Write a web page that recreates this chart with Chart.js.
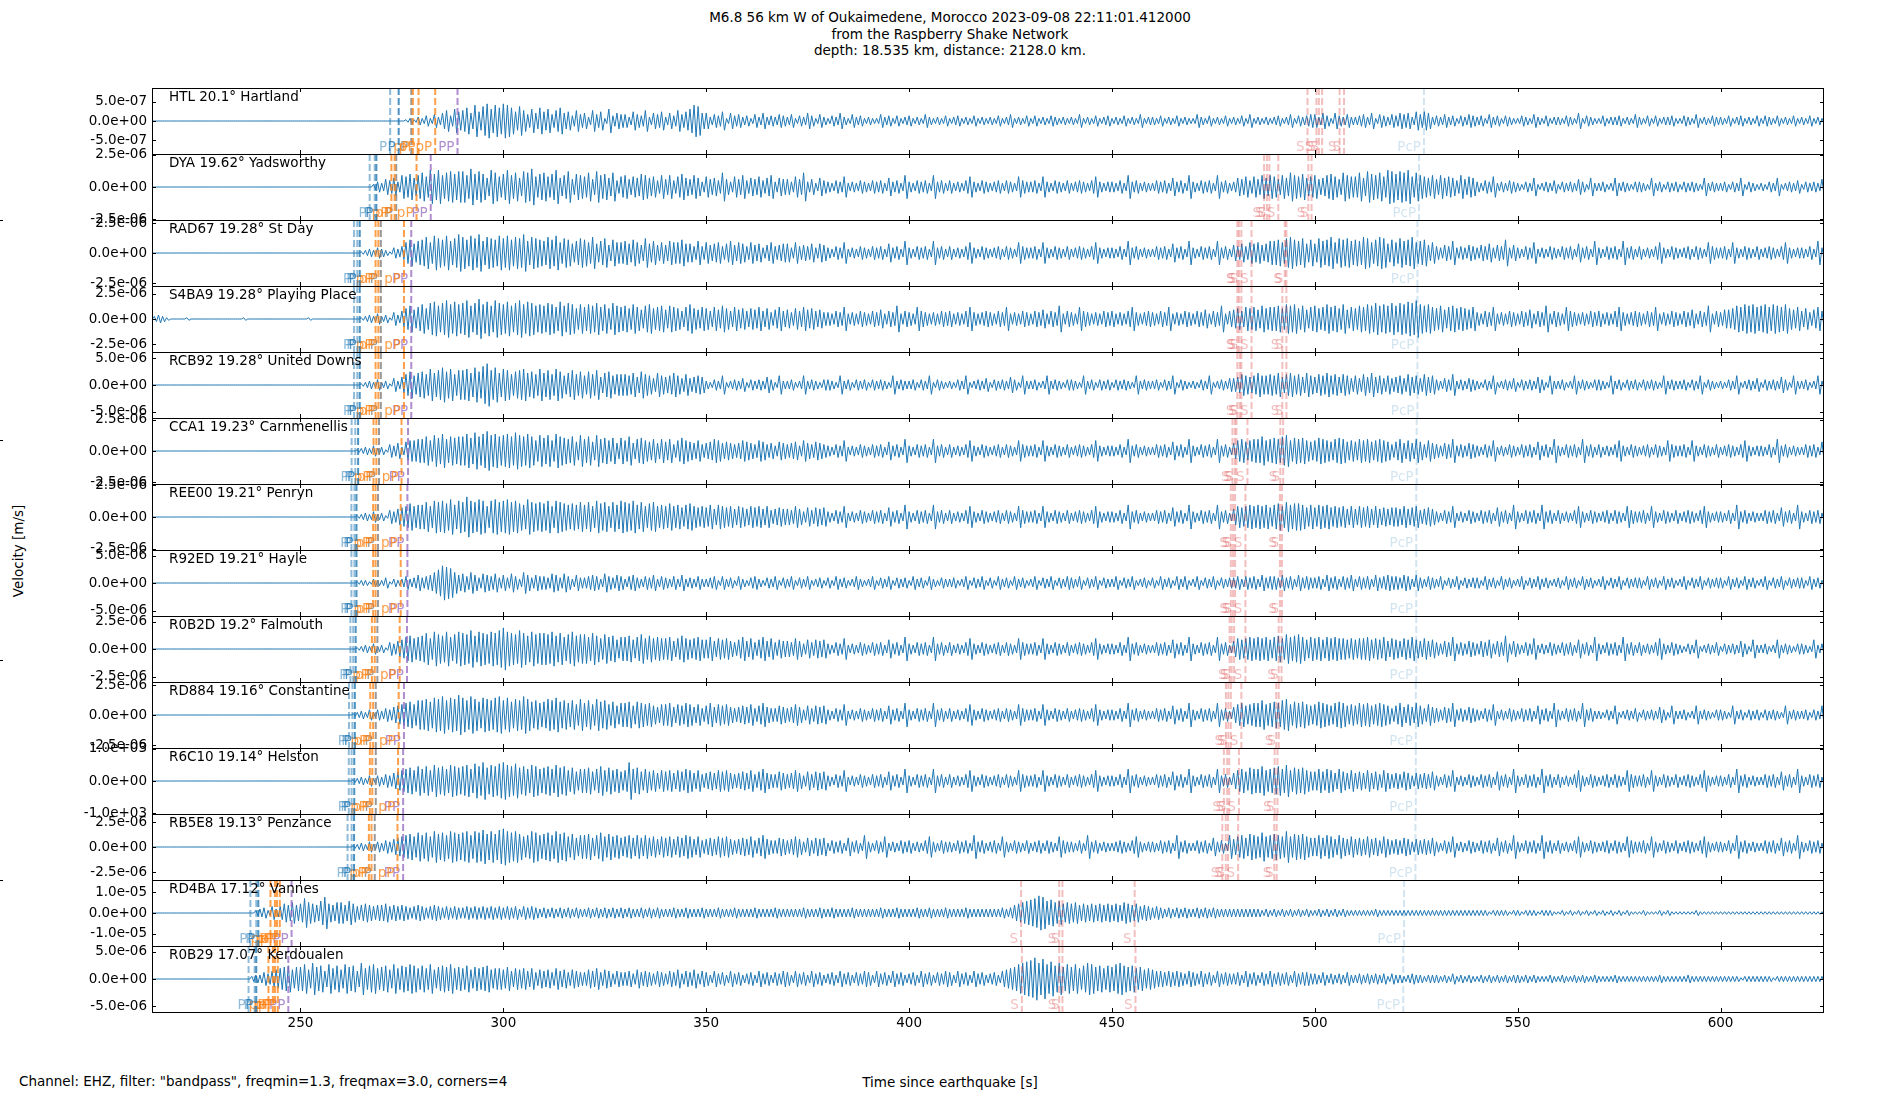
<!DOCTYPE html>
<html>
<head>
<meta charset="utf-8">
<title>M6.8 Oukaimedene - Raspberry Shake record section</title>
<script src="https://cdn.jsdelivr.net/npm/chart.js@4.4.1/dist/chart.umd.min.js"></script>
<style>
  html, body { margin: 0; padding: 0; background: #fff; }
  body { width: 1900px; height: 1100px; position: relative; overflow: hidden;
         font-family: "DejaVu Sans", sans-serif; font-size: 13.5px; color: #000; }
  .panel { position: absolute; left: 0; width: 1900px; }
  #title { position: absolute; left: 0; top: 9px; width: 1900px; text-align: center; line-height: 16.5px; }
  #ylabel { position: absolute; left: 18px; top: 551px; transform: translate(-50%, -50%) rotate(-90deg); white-space: nowrap; }
  #xlabel { position: absolute; left: 950px; top: 1082px; transform: translate(-50%, -50%); white-space: nowrap; }
  #note { position: absolute; left: 19px; top: 1081px; transform: translateY(-50%); white-space: nowrap; }
  .edge { position: absolute; left: 0; width: 3px; height: 1px; background: #000; }
</style>
</head>
<body>
<div id="title">M6.8 56 km W of Oukaimedene, Morocco 2023-09-08 22:11:01.412000<br>from the Raspberry Shake Network<br>depth: 18.535 km, distance: 2128.0 km.</div>
<div id="ylabel">Velocity [m/s]</div>
<div id="xlabel">Time since earthquake [s]</div>
<div id="note">Channel: EHZ, filter: "bandpass", freqmin=1.3, freqmax=3.0, corners=4</div>
<div class="edge" style="top:220px"></div>
<div class="edge" style="top:440px"></div>
<div class="edge" style="top:660px"></div>
<div class="edge" style="top:880px"></div>
<script>
// one panel per station, top to bottom
const stations = [
  'HTL 20.1° Hartland', 'DYA 19.62° Yadsworthy', 'RAD67 19.28° St Day', 'S4BA9 19.28° Playing Place',
  'RCB92 19.28° United Downs', 'CCA1 19.23° Carnmenellis', 'REE00 19.21° Penryn', 'R92ED 19.21° Hayle',
  'R0B2D 19.2° Falmouth', 'RD884 19.16° Constantine', 'R6C10 19.14° Helston', 'RB5E8 19.13° Penzance',
  'RD4BA 17.12° Vannes', 'R0B29 17.07° Kerdoualen'
];
const yLimits = [8.5e-7, 2.55e-6, 2.75e-6, 3.25e-6, 6.2e-6, 2.65e-6, 2.58e-6, 6.0e-6,
                 3.0e-6, 2.75e-6, 1.02e3, 3.3e-6, 1.6e-5, 6.1e-6];
const yTickSteps = [5e-7, 2.5e-6, 2.5e-6, 2.5e-6, 5e-6, 2.5e-6, 2.5e-6, 5e-6,
                    2.5e-6, 2.5e-6, 1e3, 2.5e-6, 1e-5, 5e-6];
// size of one amplitude step in the trace codes, per station
const ampUnits = [3.4e-8, 1.0e-7, 1.1e-7, 1.3e-7, 2.5e-7, 1.05e-7, 1.05e-7, 2.4e-7,
                  1.2e-7, 1.1e-7, 41, 1.3e-7, 6.4e-7, 2.45e-7];
const xTicks = [250, 300, 350, 400, 450, 500, 550, 600];
const xRange = [213.4, 625.5];

// trace peaks: one base-36 amplitude step per second, from 210 s
const traceStart = 210;
const traceCodes = [
  '0000000000 0000000000 0000000000 0000000000 0000000000 0000000000 0000001213 2425368497 8a6c7bd9ca dca7b8596a 7958a67485 6385729465 5375483657 3648579cb6 6354726453 4253634354 3524364253 2436325342 3225342423 4232532324 2342324232 3242352324 2423243232 3252324234 2324232523 3242324232 2532423242 3242523232 3423524345 5364264353 3453625435 4656375763 4353424354 3425342432 2432532423 3243262432 2423342325 3242423342 2432523243 3242342324 2432423242 3242324232',
  '0000000000 0000000000 0000000000 0000000000 0000000000 0000000024 3657498a79 b8dad9bcac c9eaca7db8 ad9b7cbe8a b8ad79c6a9 8b6c9a7b58 9687a97859 6958a76974 8675b64869 5768579476 6486b46375 4354834354 3545374539 4354539453 5343584354 3453543854 4538435435 3454358434 4353945343 3545374539 4354539453 4768586979 8697b98a78 9679a86b98 8b7ca9b8dc acbd8b9879 6978759687 4354834354 3243723435 2434364273 3423734324 4327342434 2434327343 3424372432 3243723435 2434364273',
  '0000000000 0000000000 0000000000 0000000000 0000000000 0000012324 3214358a79 ac8dbad9be cadbe9cbad bdacbe9cba 9cad8ba79b a8c79b6a88 97a86b7968 6988a77595 8678579687 5867468567 7485657476 4354834354 3545374539 4354539453 5343584354 3453543854 4538435435 3454358434 4353945343 3545374539 4354539453 6575878679 9a8bca9b7a 7b9ac8bab9 a9cb8acb7a 8b9ac89a68 5465945465 4657465a46 4354834354 3545374539 4354539453 5343584354 3453543854 4538435435 3454358434 4353945343',
  '0000232100 0010000000 0000001000 0000000000 0010000000 0000012324 2315368a79 b8cdacebdb ceacfbdaec bdacebdcab acb9dacb8b 9bac9b8ca9 a8b97ab89a 7a9869b879 8697a86978 6879685796 7586978675 5465945465 4657465a46 5496545465 6454695456 5465945465 4657465a46 5496545465 6454695456 5465945465 4657465a46 7869897a89 9a8bab8a79 a89b9a8b79 8a9bacabac acbdcebab9 8a79a89879 5465945465 4657465a46 5496545465 6454695456 5465945465 4657465a46 5778a9bab9 ab9ba9b879 6857968576',
  '0000000000 0000000000 0000000000 0000000000 0000000000 0000012324 2315368a79 a8c9bdac8b bc9daegbd9 cb8abc9a8c 9b8ca79b8a 7a8b69a788 8796a87597 6797585676 3243723435 2434364273 3423734324 4327342434 2434327343 3424372432 3243723435 2434364273 3423734324 4327342434 2434327343 3424372432 3243723435 5687679778 7968978697 6879786875 7586967575 6758675867 4354834354 3243723435 2434364273 3423734324 4327342434 2434327343 3424372432 3243723435 2434364273 3423734324',
  '0000000000 0000000000 0000000000 0000000000 0000000000 0000123242 3154637889 9b8cad9bab bdaebdfcdb cdbecbdb8c ac8dba9b7c 9b7c9a8a6a 8b69a87969 7958a87685 6798676568 7658756476 5674865765 4354834354 3545374539 4354539453 5343584354 3453543854 4538435435 3454358434 4353945343 3545374539 4354539453 6897899b89 a9bc8a9a87 8a9879a978 7989789875 7968697586 5465945465 4354834354 3545374539 4354539453 5343584354 3453543854 4538435435 3454358434 4353945343 3545374539',
  '0000000000 0000000000 0000000000 0000000000 0000000000 0000123242 3154678a89 9b8cbcad9c bfcbdc8cdb cdbca9dbab ac8cba9a9b 9b8cab8b9c bac9b8ab89 8a8979a878 7969878687 6878685676 6586475767 4354834354 3545374539 4354539453 5343584354 3453543854 4538435435 3454358434 4353945343 3545374539 4354539453 6878989897 9a8b9aa979 7989787868 6878686767 7686785676 4354834354 3545374539 4354539453 5343584354 3453543854 4538435435 3454358434 4353945343 3545374539 4354539453',
  '0000000000 0000000000 0000000000 0000000000 0000000000 0000122132 2413235346 4568adcb86 7586476574 6475386465 5476475364 4565375465 3564354635 4353634353 3452534253 2453243524 3524352342 4253423532 3524352434 2534253243 3423524352 4253425342 3524352435 4352435243 3524352342 4253425352 3524352434 4535453645 5464536454 4536453546 3545364565 5465364354 3524352434 4253425342 3524353423 4253425342 3524352434 4253425342 3524352434 4253425342 3524352434 4253425342',
  '0000000000 0000000000 0000000000 0000000000 0000000000 0000123242 3154679a89 ac8dbad9bd cbeadcbdce gdcbecadbc cbdac9bdab b9ca8b9a79 9a79b8a898 8968a87897 7968786579 6857968576 6586475767 4354834354 3545374539 4354539453 5343584354 3453543854 4538435435 3454358434 4353945343 3545374539 4354539453 6878989897 9a8b9ab979 8979898878 7889787968 7687976867 5465945465 4657465a46 4354834354 3545374539 4354539453 5343584354 3243723435 2434364273 3423734324 4327342434',
  '0000000000 0000000000 0000000000 0000000000 0000000000 0001232424 3546789a8b bcadcebdcf dbecadcbde bdacbecab9 acbdab9b8c 9b8cab8a79 9a7a989768 8968798685 7968786567 6857965576 5686475767 4354834354 3545374539 4354539453 5343584354 3453543854 4538435435 3454358434 4353945343 3545374539 4354539453 6897899b89 a9bc8a9a87 8a9879a978 7989789875 7968697586 5465945465 4354834354 3545374539 4354539453 3243723435 2434364273 3423734324 4327342434 2434327343 3424372432',
  '0000000000 0000000000 0000000000 0000000000 0000000000 0001232424 3546789a8b 9b8cab9cba bc9dbeacbd ecbdab9cb9 ab9cab8a79 9a79b8a897 8e9a797868 7868798685 6768786567 6857965576 5686475767 4354834354 3545374539 4354539453 5343584354 3453543854 4538435435 3454358434 4353945343 3545374539 4354539453 6897a99b89 ab9c8a9a87 7979869768 6768675865 6576465657 4354834354 3545374539 4354539453 5343584354 3453543854 4538435435 3454358434 4353945343 3545374539 4354539453',
  '0000000000 0000000000 0000000000 0000000000 0000000000 0001232424 3546789a8b 9b8cab9cba bc9cbdacad ecbca89cb9 ab9cab8a79 9a79b8a897 8979797868 7868798685 6768786567 6857965576 5686475767 3545374539 4354834354 5343584354 4354539453 4538435435 3453543854 4353945343 3454358434 4354539453 3545374539 6897a98b89 a98c8a9a87 7979869768 6768675865 6576465657 4354834354 3545374539 4354539453 5343584354 3453543854 4538435435 3454358434 4353945343 3545374539 4354539453',
  '0000000000 0000000000 0000000002 3425357686 7b8769c768 8697567656 6756565456 5456545454 4545454545 4545354543 4343434343 3434343434 3433434343 3343343334 3334333433 3343333433 3333433343 3433334333 3334333433 3343343334 3333433333 3334346789 abdc9a8978 7867676767 6768767565 4543434343 3434343333 3333333232 3232323232 2323232322 2222232222 2222222222 2222222222 2221222212 2122212221 1212121212 1212121211 1211121211 1111211111 1111111111 1111111111 1111111111',
  '0000000000 0000000000 0000000023 3546789a79 9b7c9a6b8a 7b9a6c8ab8 9a7b8a9ba8 a8b79a9b89 8a7989a788 7968786857 6758675765 5768576465 5647565465 4657465746 5364536453 4536453546 5364536453 4536453546 5364536453 4536453546 5364536453 4536789bcd egcfbdac9b 9b8acb9a8a 9bca9a8978 7665656546 5464536454 4536453546 4545364554 4353434353 3434343424 3323433233 3232423232 2323232323 3232322232 2322323223 2222322222 2222232222 2232222222 2222212222 2221222222 2222222222'
];

// phase arrival times [s] per station
const pTimes = [
  [272.1, 274.2], [267.05, 268.3, 268.7], [263.2, 264.0, 264.6], [263.2, 264.0, 264.6],
  [263.2, 264.0, 264.6], [262.6, 263.5, 264.2], [262.55, 263.3, 263.8], [262.55, 263.3, 263.8],
  [262.3, 263.0, 263.6], [261.95, 262.8, 263.4], [261.9, 262.6, 263.25], [261.6, 262.6, 263.2],
  [237.65, 239.1, 239.6], [237.2, 238.7, 239.1]
];
const pPTimes = [
  [277.7, 279.1], [272.4, 273.2], [268.5, 269.2], [268.5, 269.2], [268.5, 269.2], [268.0, 268.7],
  [267.9, 268.5], [267.9, 268.5], [267.6, 268.3], [267.2, 267.9], [267.1, 267.7], [266.85, 267.5],
  [242.6, 243.7, 244.2], [242.1, 243.2, 243.7]
];
const grayTimes = [
  [277.3], [273.6], [269.8], [269.8], [269.8], [269.35], [269.1], [269.1], [268.95], [268.55],
  [268.55], [268.3], [], []
];
const pPLateTimes = [
  [283.2], [278.6], [275.5], [275.5], [275.5], [274.9], [274.7], [274.7], [274.45], [274.2],
  [274.05], [273.9], [244.9], [244.4]
];
const ppTimes = [
  [288.7], [282.1], [277.3], [277.3], [277.3], [276.5], [276.35], [276.35], [276.25], [275.5],
  [275.3], [275.3], [247.8], [247.0]
];
const sTimes = [
  [498.2, 500.4, 501.0, 501.8, 506.1, 507.2],
  [487.5, 488.2, 488.8, 491.0, 498.4, 499.2],
  [480.9, 481.3, 481.9, 484.4, 492.6, 493.0],
  [480.9, 481.3, 481.9, 484.4, 492.0, 493.0],
  [480.9, 481.5, 481.9, 484.4, 492.0, 493.0],
  [479.7, 480.3, 480.7, 483.4, 491.5, 492.2],
  [479.3, 479.85, 480.35, 482.9, 491.4, 491.9],
  [479.3, 479.85, 480.35, 482.9, 491.4, 491.9],
  [479.0, 479.5, 480.1, 482.9, 491.1, 491.8],
  [478.1, 478.7, 479.3, 481.9, 490.5, 491.1],
  [477.6, 478.4, 478.9, 481.3, 490.1, 490.8],
  [477.2, 478.05, 478.6, 481.1, 490.0, 490.6],
  [427.6, 437.0, 437.8, 455.6],
  [427.8, 437.0, 437.8, 455.8]
];
const pcpTimes = [526.9, 525.7, 525.3, 525.3, 525.3, 525.1, 525.0, 525.0, 525.0, 524.9, 524.9, 524.8, 522.0, 521.8];

const PANEL_TOP = 88, PANEL_H = 66, PAD = 20, RIGHT = 1824;
const FONT = '13.5px "DejaVu Sans"';
Chart.defaults.font.family = '"DejaVu Sans"';
Chart.defaults.font.size = 13.5;

function sci(v) {
  const parts = Number(v).toExponential(1).split('e');
  return parts[0] + 'e' + parts[1][0] + parts[1].slice(1).padStart(2, '0');
}

function tracePoints(code, unit) {
  const s = code.replace(/\s+/g, '');
  const pts = [];
  for (let i = 0; i < s.length; i++) {
    const a = parseInt(s[i], 36) * unit;
    pts.push({ x: traceStart + i, y: a }, { x: traceStart + i + 0.5, y: -a });
  }
  return pts;
}

function drawPhase(ctx, area, xs, t, color, label) {
  const x = xs.getPixelForValue(t);
  if (x < area.left || x > area.right) return;
  ctx.strokeStyle = color;
  ctx.fillStyle = color;
  ctx.beginPath();
  ctx.moveTo(x, area.top);
  ctx.lineTo(x, area.bottom);
  ctx.stroke();
  ctx.fillText(label, x - 3, area.bottom - 3);
}

stations.forEach((name, i) => {
  const last = i === stations.length - 1;
  const div = document.createElement('div');
  div.className = 'panel';
  div.style.top = (PANEL_TOP + PANEL_H * i - PAD) + 'px';
  div.style.height = (PANEL_H + PAD + (last ? 40 : PAD)) + 'px';
  const canvas = document.createElement('canvas');
  div.appendChild(canvas);
  document.body.appendChild(div);

  const lim = yLimits[i];
  const yTicks = [-yTickSteps[i], 0, yTickSteps[i]];

  const decor = {
    id: 'decor' + i,
    afterDatasetsDraw(chart) {
      const { ctx, chartArea: a, scales } = chart;
      ctx.save();
      ctx.beginPath();
      ctx.rect(a.left, a.top, a.right - a.left, a.bottom - a.top);
      ctx.clip();
      ctx.lineWidth = 2;
      ctx.setLineDash([7, 3]);
      ctx.font = FONT;
      ctx.textAlign = 'right';
      ctx.textBaseline = 'alphabetic';
      drawPhase(ctx, a, scales.x, pcpTimes[i], 'rgba(31,119,180,0.2)', 'PcP');
      sTimes[i].forEach(t => drawPhase(ctx, a, scales.x, t, 'rgba(214,39,40,0.3)', 'S'));
      ppTimes[i].forEach(t => drawPhase(ctx, a, scales.x, t, 'rgba(148,103,189,0.75)', 'PP'));
      pPLateTimes[i].forEach(t => drawPhase(ctx, a, scales.x, t, 'rgba(255,127,14,0.75)', 'pP'));
      grayTimes[i].forEach(t => drawPhase(ctx, a, scales.x, t, 'rgba(127,127,127,0.8)', 'P'));
      pPTimes[i].forEach(t => drawPhase(ctx, a, scales.x, t, 'rgba(255,127,14,0.75)', 'pP'));
      pTimes[i].forEach((t, k, arr) => drawPhase(ctx, a, scales.x, t,
        k === arr.length - 1 ? 'rgba(31,119,180,0.8)' : 'rgba(31,119,180,0.5)', 'P'));
      ctx.restore();
    },
    afterDraw(chart) {
      const { ctx, chartArea: a, scales } = chart;
      ctx.save();
      ctx.strokeStyle = '#000';
      ctx.lineWidth = 1;
      ctx.strokeRect(Math.round(a.left) + 0.5, Math.round(a.top) + 0.5,
                     Math.round(a.right - a.left) - 1, Math.round(a.bottom - a.top));
      ctx.beginPath();
      yTicks.forEach(v => {
        const y = Math.round(scales.y.getPixelForValue(v)) + 0.5;
        ctx.moveTo(a.left, y); ctx.lineTo(a.left + 4, y);
        ctx.moveTo(a.right, y); ctx.lineTo(a.right - 4, y);
      });
      xTicks.forEach(v => {
        const x = Math.round(scales.x.getPixelForValue(v)) + 0.5;
        ctx.moveTo(x, a.bottom); ctx.lineTo(x, a.bottom - 4);
        ctx.moveTo(x, a.top); ctx.lineTo(x, a.top + 4);
      });
      ctx.stroke();
      ctx.fillStyle = '#000';
      ctx.font = FONT;
      ctx.textAlign = 'left';
      ctx.textBaseline = 'middle';
      ctx.fillText(name, a.left + 17, a.top + 9);
      ctx.restore();
    }
  };

  new Chart(canvas, {
    type: 'line',
    data: {
      datasets: [{
        data: tracePoints(traceCodes[i], ampUnits[i]),
        borderColor: '#1f77b4',
        borderWidth: 1,
        pointRadius: 0,
        tension: 0,
        fill: false
      }]
    },
    options: {
      responsive: true,
      maintainAspectRatio: false,
      animation: false,
      events: [],
      layout: { padding: { left: 0, right: 1900 - RIGHT, top: PAD, bottom: last ? 10 : PAD } },
      plugins: { legend: { display: false }, tooltip: { enabled: false } },
      scales: {
        x: {
          type: 'linear', min: xRange[0], max: xRange[1], display: last,
          afterBuildTicks: s => { s.ticks = xTicks.map(v => ({ value: v })); },
          afterFit: s => { s.height = last ? 30 : 0; },
          grid: { display: false, drawTicks: false },
          border: { display: false },
          ticks: { color: '#000', padding: 3, maxRotation: 0, autoSkip: false, callback: v => String(v) }
        },
        y: {
          type: 'linear', min: -lim, max: lim,
          afterBuildTicks: s => { s.ticks = yTicks.map(v => ({ value: v })); },
          afterFit: s => { s.width = 152; },
          grid: { display: false, drawTicks: false },
          border: { display: false },
          ticks: { color: '#000', padding: 5, autoSkip: false, callback: v => sci(v) }
        }
      }
    },
    plugins: [decor]
  });
});
</script>
</body>
</html>
